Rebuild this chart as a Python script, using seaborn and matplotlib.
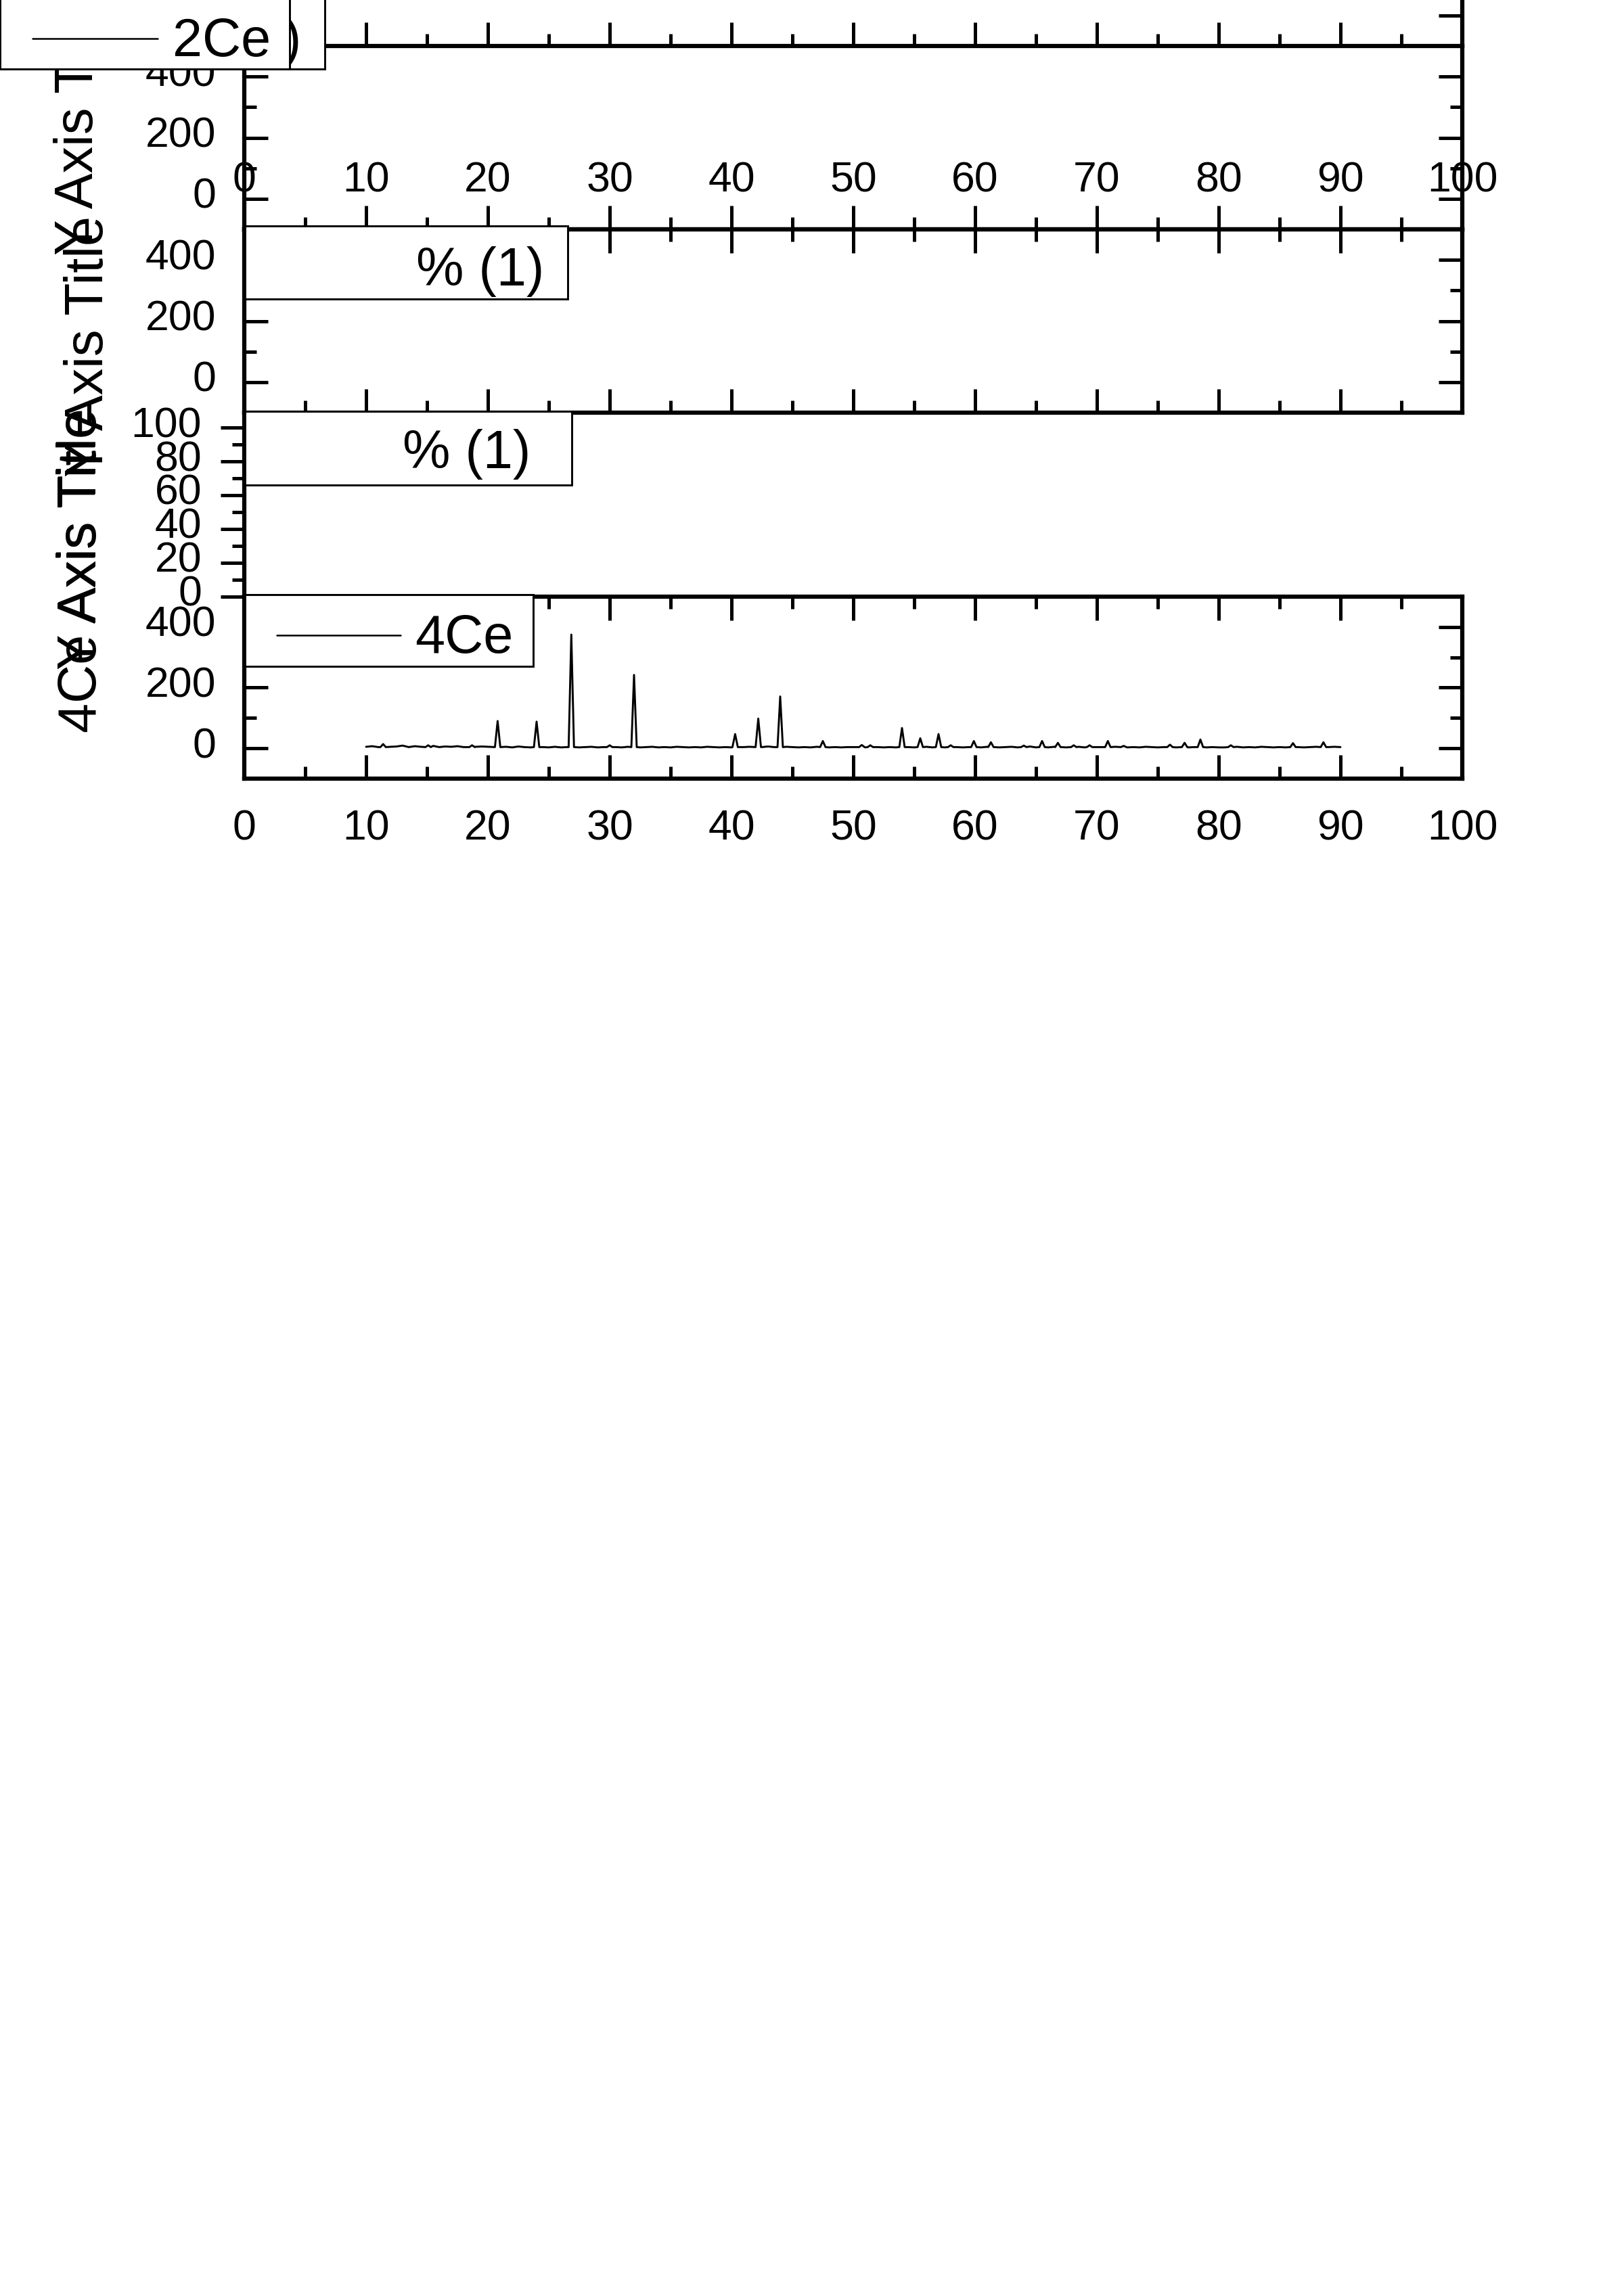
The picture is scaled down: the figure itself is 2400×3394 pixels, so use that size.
import numpy as np
import pandas as pd
import matplotlib
matplotlib.use('Agg')
import matplotlib.pyplot as plt
import matplotlib.transforms as mtransforms
from matplotlib.patches import Rectangle
from matplotlib.lines import Line2D
from matplotlib.ticker import FixedLocator
import seaborn as sns

# --- dados ---
x_major = list(range(0, 101, 10))
x_minor = list(range(5, 100, 10))
counts_major = [0, 200, 400]
counts_minor = [100, 300]
pct_major = [0, 20, 40, 60, 80, 100]
pct_minor = [10, 30, 50, 70, 90]

# 4Ce: linha de base (passo 0.5 de 10 a 90) e picos
bg_counts = [5, 7, 4, 8, 5, 6, 9, 4, 7, 5, 6, 8, 4, 6, 5, 7, 4, 6, 5, 6, 5,
             4, 3, 5, 3, 6, 4, 3, 5, 4, 3, 5, 3, 4, 6, 3, 4, 5, 3, 4, 4,
             4, 3, 5, 4, 3, 4, 5, 3, 4, 3, 5, 4, 3, 4, 3, 5, 4, 3, 4, 3,
             3, 4, 5, 3, 4, 6, 4, 3, 5, 4, 3, 4, 3, 5, 4, 3, 4, 3, 4, 4,
             4, 3, 5, 4, 3, 4, 3, 5, 4, 3, 4, 5, 3, 4, 3, 5, 4, 3, 4, 3,
             3, 5, 4, 3, 4, 5, 3, 4, 6, 3, 4, 3, 5, 4, 3, 4, 5, 3, 4, 4,
             4, 3, 5, 4, 3, 4, 3, 5, 4, 3, 4, 5, 3, 4, 3, 4, 5, 3, 4, 3,
             3, 4, 5, 3, 4, 3, 5, 4, 3, 4, 3, 5, 4, 3, 4, 5, 3, 4, 5, 4]
bg_two_theta = np.arange(10.0, 90.01, 0.5)

peak_pos = [11.4, 15.1, 18.7, 20.8, 24.0, 26.85, 30.0, 32.0,
            40.3, 42.2, 44.0, 47.5, 50.7, 51.4, 54.0, 55.5, 57.0, 58.0, 59.9,
            61.3, 64.0, 65.5, 66.8, 68.1, 69.4, 70.9, 72.2, 76.0, 77.2, 78.5,
            81.0, 86.1, 88.6]
peak_height = [14, 10, 10, 90, 88, 375, 10, 242,
               47, 98, 171, 24, 11, 10, 67, 33, 47, 10, 24,
               20, 9, 24, 18, 10, 10, 24, 8, 12, 18, 29,
               10, 17, 20]

legend_2ce = '2Ce'
legend_pct = '% (1)'
legend_4ce = '4Ce'
ytitle = 'Y Axis Title'
ytitle_4ce = '4Ce Axis Title'

# monta a tabela do traço
pts = [(x, y) for x, y in zip(bg_two_theta, bg_counts)
       if min(abs(x - p) for p in peak_pos) > 0.25]
for p, h in zip(peak_pos, peak_height):
    pts += [(p - 0.22, 4), (p, h), (p + 0.22, 4)]
pts.sort()
df_4ce = pd.DataFrame(pts, columns=['two_theta', 'intensity'])

# --- estilo ---
sns.set_theme(style='white')
plt.rcParams['font.family'] = ['Liberation Sans', 'DejaVu Sans']
plt.rcParams['axes.edgecolor'] = 'black'
plt.rcParams['xtick.color'] = 'black'
plt.rcParams['ytick.color'] = 'black'
plt.rcParams['text.color'] = 'black'

W, H, DPI = 2400, 3394, 300
TICK_FS = 15
TEXT_FS = 19

fig = plt.figure(figsize=(W / DPI, H / DPI), dpi=DPI)
fig.patch.set_facecolor('white')
px = mtransforms.Affine2D().scale(1 / W, -1 / H).translate(0, 1) + fig.transFigure


def camada(top, bottom):
    ax = fig.add_axes([361 / W, 1 - bottom / H, 1800 / W, (bottom - top) / H])
    ax.set_facecolor('none')
    ax.set_xlim(0, 100)
    ax.xaxis.set_major_locator(FixedLocator(x_major))
    ax.xaxis.set_minor_locator(FixedLocator(x_minor))
    for s in ax.spines.values():
        s.set_linewidth(1.5)
        s.set_color('black')
    ax.tick_params(which='major', length=8.4, width=1.2, direction='in',
                   labelsize=TICK_FS, pad=10)
    ax.tick_params(which='minor', length=4.3, width=1.2, direction='in')
    ax.tick_params(axis='x', which='both', top=False, bottom=False,
                   labelbottom=False, labeltop=False)
    ax.tick_params(axis='y', which='both', left=False, right=False,
                   labelleft=False, labelright=False)
    return ax


def eixo_contagens(ax):
    ax.set_ylim(-100, 500)
    ax.yaxis.set_major_locator(FixedLocator(counts_major))
    ax.yaxis.set_minor_locator(FixedLocator(counts_minor))


# camada 1 (2Ce) - quase toda fora da figura
ax1 = camada(-203, 68)
eixo_contagens(ax1)
ax1.spines['top'].set_visible(False)
ax1.tick_params(axis='x', which='both', bottom=True)
ax1.tick_params(axis='x', labelbottom=True, pad=40.8)
ax1.tick_params(axis='y', which='both', left=True, right=True)

# camada 2
ax2 = camada(68, 339)
eixo_contagens(ax2)
ax2.spines['top'].set_visible(False)
ax2.tick_params(axis='x', which='both', bottom=True)
ax2.tick_params(axis='y', which='both', left=True, right=True)
ax2.tick_params(axis='y', labelleft=True)

# camada 3
ax3 = camada(339, 610)
eixo_contagens(ax3)
ax3.tick_params(axis='x', which='both', bottom=True, top=True)
ax3.tick_params(axis='y', which='both', left=True, right=True)
ax3.tick_params(axis='y', labelleft=True)

# camada 4 (0-100)
ax4 = camada(610, 882)
ax4.set_ylim(0, 108.8)
ax4.yaxis.set_major_locator(FixedLocator(pct_major))
ax4.yaxis.set_minor_locator(FixedLocator(pct_minor))
for side in ['top', 'bottom', 'right']:
    ax4.spines[side].set_visible(False)
ax4.tick_params(axis='y', which='both', left=True, direction='out')
ax4.tick_params(axis='y', labelleft=True, pad=6.7)

# camada 5 (4Ce)
ax5 = camada(882, 1151)
eixo_contagens(ax5)
ax5.tick_params(axis='x', which='both', bottom=True, top=True)
ax5.tick_params(axis='x', labelbottom=True, pad=10.6)
ax5.tick_params(axis='y', which='both', left=True, right=True)
ax5.tick_params(axis='y', labelleft=True)
sns.lineplot(data=df_4ce, x='two_theta', y='intensity', ax=ax5, color='black',
             linewidth=0.7, estimator=None, sort=False, legend=False)
ax5.set_xlabel('')
ax5.set_ylabel('')
ax5.set_xlim(0, 100)

# títulos dos eixos y (sobrepostos como no original)
for xb, yb, s in [(137, 377, ytitle), (152, 705, ytitle),
                  (141, 990, ytitle), (142, 1083, ytitle_4ce)]:
    fig.text(xb, yb, s, transform=px, rotation=90, rotation_mode='anchor',
             ha='left', va='baseline', fontsize=TEXT_FS, zorder=2)


def caixa(x0, y0, x1, y1, z):
    fig.add_artist(Rectangle((x0, y0), x1 - x0, y1 - y0, transform=px,
                             facecolor='white', edgecolor='black',
                             linewidth=0.7, zorder=z))


# legendas
caixa(3, -20, 480, 102, 5)
fig.text(445, 83, legend_pct, transform=px, ha='right', va='baseline',
         fontsize=TEXT_FS, zorder=5.1)
caixa(0, -20, 428, 102, 5.2)
fig.add_artist(Line2D([48, 233], [57, 57], transform=px, color='black',
                      linewidth=0.6, zorder=5.3))
fig.text(255, 83, legend_2ce, transform=px, ha='left', va='baseline',
         fontsize=TEXT_FS, zorder=5.3)

caixa(362, 334, 839, 442, 5.5)
fig.text(804, 422, legend_pct, transform=px, ha='right', va='baseline',
         fontsize=TEXT_FS, zorder=5.6)

caixa(362, 608, 845, 717, 5.5)
fig.text(784, 692, legend_pct, transform=px, ha='right', va='baseline',
         fontsize=TEXT_FS, zorder=5.6)

caixa(362, 879, 788, 985, 5.5)
fig.add_artist(Line2D([409, 592], [939, 939], transform=px, color='black',
                      linewidth=0.6, zorder=5.6))
fig.text(613, 965, legend_4ce, transform=px, ha='left', va='baseline',
         fontsize=TEXT_FS, zorder=5.6)

# rótulos y um pouco acima das marcas, como no Origin
fig.canvas.draw()
shift = mtransforms.ScaledTranslation(0, 9 / DPI, fig.dpi_scale_trans)
for ax in [ax2, ax3, ax4, ax5]:
    for lab in ax.get_yticklabels():
        lab.set_transform(lab.get_transform() + shift)

fig.savefig('out.png', dpi=DPI, facecolor='white')
plt.close(fig)
